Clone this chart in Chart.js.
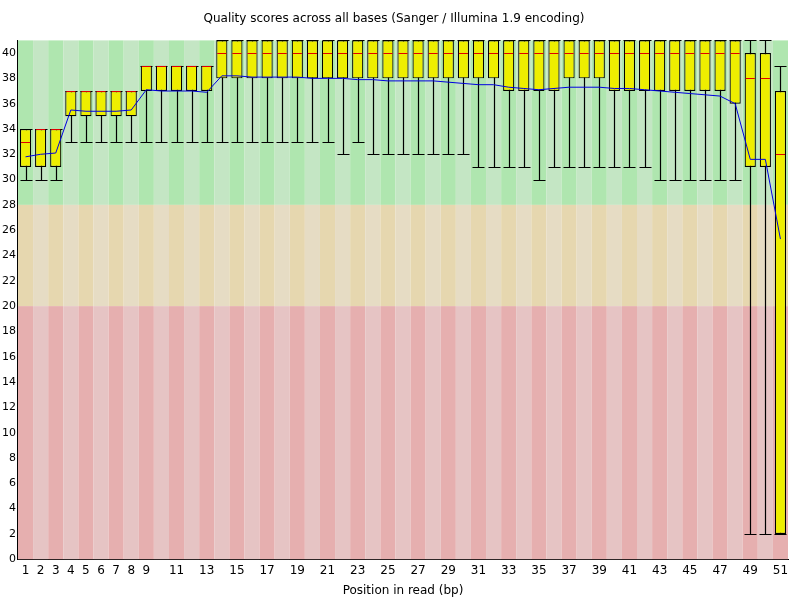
<!DOCTYPE html>
<html><head><meta charset="utf-8">
<script src="https://cdn.jsdelivr.net/npm/chart.js@4"></script>
<style>html,body{margin:0;background:#fff}#wrap{width:800px;height:600px}</style>
</head><body><div id="wrap"><canvas id="c"></canvas></div>
<script>
// Per-base quality data (positions 1..51)
const positions = Array.from({length: 51}, (_, i) => String(i + 1));
const lowerWhisker = [30,30,30,33,33,33,33,33,33,33,33,33,33,33,33,33,33,33,33,33,33,32,33,32,32,32,32,32,32,32,31,31,31,31,30,31,31,31,31,31,31,31,30,30,30,30,30,30,2,2,2];
const upperWhisker = [34,34,34,37,37,37,37,37,39,39,39,39,39,41,41,41,41,41,41,41,41,41,41,41,41,41,41,41,41,41,41,41,41,41,41,41,41,41,41,41,41,41,41,41,41,41,41,41,41,41,39];
const q1 = [31,31,31,35,35,35,35,35,37,37,37,37,37,38,38,38,38,38,38,38,38,38,38,38,38,38,38,38,38,38,38,38,37,37,37,37,38,38,38,37,37,37,37,37,37,37,37,36,31,31,2];
const q3 = [34,34,34,37,37,37,37,37,39,39,39,39,39,41,41,41,41,41,41,41,41,41,41,41,41,41,41,41,41,41,41,41,41,41,41,41,41,41,41,41,41,41,41,41,41,41,41,41,40,40,37];
const medians = [33,34,34,37,37,37,37,37,39,39,39,39,39,40,40,40,40,40,40,40,40,40,40,40,40,40,40,40,40,40,40,40,40,40,40,40,40,40,40,40,40,40,40,40,40,40,40,40,38,38,32];
const means = [31.8,32.0,32.1,35.5,35.4,35.4,35.4,35.5,37.1,37.0,37.0,37.0,36.9,38.2,38.2,38.1,38.1,38.1,38.1,38.0,38.0,38.0,37.9,37.9,37.8,37.8,37.8,37.8,37.7,37.6,37.5,37.5,37.3,37.2,37.1,37.2,37.3,37.3,37.3,37.2,37.2,37.1,37.0,36.9,36.8,36.7,36.6,36.0,31.6,31.6,25.3];
const yTicks = [0,2,4,6,8,10,12,14,16,18,20,22,24,26,28,30,32,34,36,38,40];

// quality zones: [from, to, dark, light]
const zones = [
  [28, 41, '#afe6af', '#c4e6c4'],
  [20, 28, '#e6d7af', '#e6dcc4'],
  [0, 20, '#e6afaf', '#e6c4c4']
];

const backgroundPlugin = {
  id: 'zones',
  beforeDatasetsDraw(chart) {
    const {ctx, scales: {x, y}} = chart;
    const half = (x.getPixelForValue(1) - x.getPixelForValue(0)) / 2;
    ctx.save();
    positions.forEach((p, i) => {
      const cx = x.getPixelForValue(i);
      zones.forEach(z => {
        const top = y.getPixelForValue(z[1]);
        const bot = y.getPixelForValue(z[0]);
        ctx.fillStyle = i % 2 === 0 ? z[2] : z[3];
        ctx.fillRect(cx - half, top, half * 2, bot - top);
      });
    });
    ctx.restore();
  }
};

const whiskerPlugin = {
  id: 'whiskers',
  beforeDatasetsDraw(chart) {
    const {ctx, scales: {x, y}} = chart;
    ctx.save();
    ctx.strokeStyle = '#000';
    ctx.lineWidth = 1.2;
    positions.forEach((p, i) => {
      const cx = Math.round(x.getPixelForValue(i)) + 0.5;
      const w = 6;
      const lo = Math.round(y.getPixelForValue(lowerWhisker[i])) + 0.5;
      const hi = Math.round(y.getPixelForValue(upperWhisker[i])) + 0.5;
      ctx.beginPath();
      ctx.moveTo(cx, lo); ctx.lineTo(cx, hi);
      ctx.moveTo(cx - w, lo); ctx.lineTo(cx + w, lo);
      ctx.moveTo(cx - w, hi); ctx.lineTo(cx + w, hi);
      ctx.stroke();
    });
    ctx.restore();
  },
  afterDatasetDraw(chart, args) {
    if (args.index !== 1) return;
    const {ctx, scales: {y}} = chart;
    const meta = chart.getDatasetMeta(1);
    ctx.save();
    ctx.strokeStyle = '#e00000';
    ctx.lineWidth = 1;
    meta.data.forEach((bar, i) => {
      const my = Math.round(y.getPixelForValue(medians[i])) + 0.5;
      ctx.beginPath();
      ctx.moveTo(bar.x - bar.width / 2 + 1, my);
      ctx.lineTo(bar.x + bar.width / 2 - 1, my);
      ctx.stroke();
    });
    ctx.restore();
  }
};

new Chart(document.getElementById('c'), {
  data: {
    labels: positions,
    datasets: [
      {
        type: 'line',
        data: means,
        borderColor: '#0000e0',
        borderWidth: 1,
        pointRadius: 0,
        tension: 0,
        order: 0
      },
      {
        type: 'bar',
        data: q1.map((v, i) => [v, q3[i]]),
        backgroundColor: '#eeee00',
        borderColor: '#000',
        borderWidth: 1.2,
        borderSkipped: false,
        categoryPercentage: 1,
        barPercentage: 0.74,
        order: 1
      }
    ]
  },
  options: {
    responsive: true,
    maintainAspectRatio: false,
    animation: false,
    layout: {padding: {left: 0, right: 12, top: 6, bottom: 0}},
    plugins: {
      legend: {display: false},
      tooltip: {enabled: false},
      title: {
        display: true,
        text: 'Quality scores across all bases (Sanger / Illumina 1.9 encoding)',
        color: '#000',
        font: {family: 'DejaVu Sans', size: 12, weight: 'normal'},
        padding: {top: 6, bottom: 14}
      }
    },
    scales: {
      x: {
        grid: {display: false, drawTicks: false},
        border: {color: '#000'},
        ticks: {
          color: '#000',
          font: {family: 'DejaVu Sans', size: 12},
          maxRotation: 0,
          autoSkip: false,
          padding: 4,
          callback: (v, i) => (i < 9 || i % 2 === 0) ? positions[i] : ''
        },
        title: {
          display: true,
          text: 'Position in read (bp)',
          color: '#000',
          font: {family: 'DejaVu Sans', size: 12},
          padding: {top: 2, bottom: 2}
        }
      },
      y: {
        min: 0,
        max: 41,
        grid: {display: false, drawTicks: false},
        border: {color: '#000'},
        afterBuildTicks: axis => { axis.ticks = yTicks.map(v => ({value: v})); },
        ticks: {
          color: '#000',
          font: {family: 'DejaVu Sans', size: 11},
          padding: 2
        }
      }
    }
  },
  plugins: [backgroundPlugin, whiskerPlugin]
});
</script>
</body></html>
